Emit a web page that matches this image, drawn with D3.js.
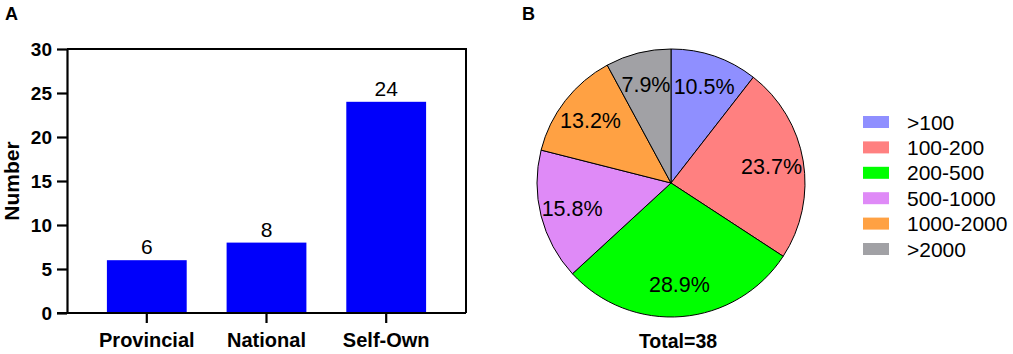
<!DOCTYPE html>
<html>
<head>
<meta charset="utf-8">
<script src="https://cdn.jsdelivr.net/npm/d3@7"></script>
<style>
  body { margin: 0; background: #fff; }
  text { font-family: "Liberation Sans", Arial, sans-serif; fill: #000; }
</style>
</head>
<body>
<div id="chart"></div>
<script>
// panel A data
var categories = ["Provincial", "National", "Self-Own"];
var counts = [6, 8, 24];
var yTicks = [0, 5, 10, 15, 20, 25, 30];

// panel B data
var ranges = [">100", "100-200", "200-500", "500-1000", "1000-2000", ">2000"];
var rangeCounts = [4, 9, 11, 6, 5, 3];
var rangeColors = ["#8f8fff", "#ff8080", "#00ff00", "#df8af7", "#ffa143", "#a1a1a5"];

var width = 1013, height = 354;

var svg = d3.select("#chart")
  .append("svg")
  .attr("width", width)
  .attr("height", height)
  .attr("viewBox", [0, 0, width, height]);

// ---------- A: bar chart ----------
var plot = { left: 67, right: 466, top: 49, bottom: 313 };

var x = d3.scaleBand()
  .domain(categories)
  .range([plot.left, plot.right])
  .paddingInner(1 / 3)
  .paddingOuter(1 / 3);

var y = d3.scaleLinear()
  .domain([0, 30])
  .range([plot.bottom, plot.top]);

svg.append("text")
  .attr("x", 5).attr("y", 20)
  .attr("font-size", 18).attr("font-weight", "bold")
  .text("A");

var gA = svg.append("g");

gA.selectAll("rect.bar")
  .data(counts)
  .join("rect")
  .attr("class", "bar")
  .attr("x", (d, i) => x(categories[i]))
  .attr("y", d => y(d))
  .attr("width", x.bandwidth())
  .attr("height", d => y(0) - y(d))
  .attr("fill", "#0000fb");

gA.selectAll("text.val")
  .data(counts)
  .join("text")
  .attr("class", "val")
  .attr("x", (d, i) => x(categories[i]) + x.bandwidth() / 2)
  .attr("y", d => y(d) - 6)
  .attr("text-anchor", "middle")
  .attr("font-size", 21)
  .text(d => d);

// frame: top and right lines
gA.append("path")
  .attr("d", `M${plot.left},${plot.top}H${plot.right}V${plot.bottom}`)
  .attr("fill", "none")
  .attr("stroke", "#000")
  .attr("stroke-width", 2);

var yAxis = gA.append("g")
  .attr("transform", `translate(${plot.left},0)`)
  .call(d3.axisLeft(y).tickValues(yTicks).tickSize(10).tickPadding(5).tickSizeOuter(0));

var xAxis = gA.append("g")
  .attr("transform", `translate(0,${plot.bottom})`)
  .call(d3.axisBottom(x).tickSize(10).tickPadding(0).tickSizeOuter(0));

[yAxis, xAxis].forEach(function(ax) {
  ax.select(".domain").attr("stroke-width", 2.2);
  ax.selectAll(".tick line").attr("stroke-width", 2.2);
});
xAxis.select(".domain").attr("d", `M${plot.left - 10},0H${plot.right}`);

yAxis.selectAll(".tick text")
  .attr("font-size", 19).attr("font-weight", "bold")
  .attr("font-family", "Liberation Sans, Arial, sans-serif")
  .attr("dy", "0.36em");

xAxis.selectAll(".tick text")
  .attr("font-size", 20).attr("font-weight", "bold")
  .attr("font-family", "Liberation Sans, Arial, sans-serif")
  .attr("y", 34).attr("dy", 0);

svg.append("text")
  .attr("transform", `translate(19,${(plot.top + plot.bottom) / 2}) rotate(-90)`)
  .attr("text-anchor", "middle")
  .attr("font-size", 21).attr("font-weight", "bold")
  .text("Number");

// ---------- B: pie chart ----------
var cx = 671, cy = 183, r = 134;

svg.append("text")
  .attr("x", 522).attr("y", 20)
  .attr("font-size", 18).attr("font-weight", "bold")
  .text("B");

var total = d3.sum(rangeCounts);
var pie = d3.pie().sort(null).value(d => d)(rangeCounts);
var arc = d3.arc().innerRadius(0).outerRadius(r);
var labelArc = d3.arc().innerRadius(102).outerRadius(102);

var gB = svg.append("g").attr("transform", `translate(${cx},${cy})`);

gB.selectAll("path")
  .data(pie)
  .join("path")
  .attr("d", arc)
  .attr("fill", (d, i) => rangeColors[i])
  .attr("stroke", "#000")
  .attr("stroke-width", 1);

gB.selectAll("text")
  .data(pie)
  .join("text")
  .attr("transform", d => `translate(${labelArc.centroid(d)})`)
  .attr("text-anchor", "middle")
  .attr("dy", "0.36em")
  .attr("font-size", 21.5)
  .text(d => (d.value / total * 100).toFixed(1) + "%");

svg.append("text")
  .attr("x", 678).attr("y", 348)
  .attr("text-anchor", "middle")
  .attr("font-size", 19.5).attr("font-weight", "bold")
  .text("Total=" + total);

// legend
var legend = svg.append("g").attr("transform", "translate(863,122)");
var row = legend.selectAll("g")
  .data(ranges)
  .join("g")
  .attr("transform", (d, i) => `translate(0,${i * 25.4})`);
row.append("rect")
  .attr("x", 0).attr("y", -6)
  .attr("width", 26).attr("height", 12)
  .attr("fill", (d, i) => rangeColors[i]);
row.append("text")
  .attr("x", 44)
  .attr("dy", "0.36em")
  .attr("font-size", 21)
  .text(d => d);
</script>
</body>
</html>
